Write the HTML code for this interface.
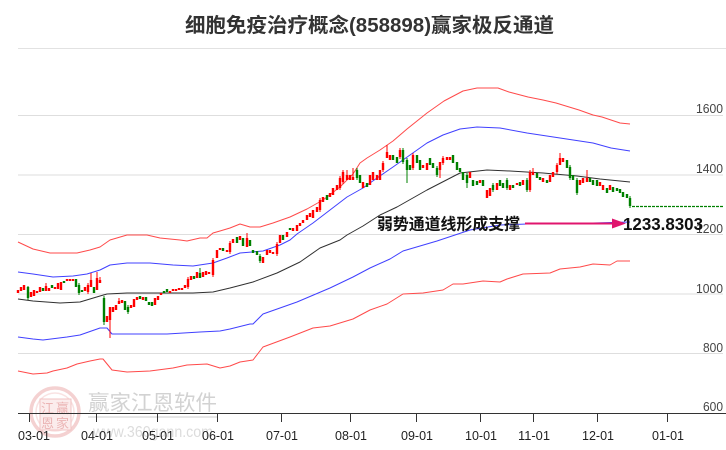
<!DOCTYPE html>
<html><head><meta charset="utf-8"><style>
html,body{margin:0;padding:0;background:#fff;width:726px;height:450px;overflow:hidden}
svg{display:block}
text{font-family:"Liberation Sans","Noto Sans CJK SC",sans-serif}
</style></head><body>
<svg width="726" height="450" viewBox="0 0 726 450" xmlns="http://www.w3.org/2000/svg">
<!-- watermark -->
<g opacity="0.85">
<circle cx="55" cy="412" r="24" fill="none" stroke="#f3caca" stroke-width="3.5"/>
<circle cx="55" cy="412" r="19" fill="none" stroke="#f8dede" stroke-width="1.5"/>
<rect x="40" y="399" width="31" height="31" fill="#fbe9e9" stroke="#efb9b9" stroke-width="1"/>
<text x="41" y="413" font-size="13" fill="#e8a8a8" font-family="Noto Sans CJK SC,sans-serif">江</text>
<text x="56" y="413" font-size="13" fill="#e8a8a8" font-family="Noto Sans CJK SC,sans-serif">赢</text>
<text x="41" y="428" font-size="13" fill="#e8a8a8" font-family="Noto Sans CJK SC,sans-serif">恩</text>
<text x="56" y="428" font-size="13" fill="#e8a8a8" font-family="Noto Sans CJK SC,sans-serif">家</text>
</g>
<text x="88" y="410" font-size="21" fill="#d2d2d2" textLength="129" lengthAdjust="spacingAndGlyphs">赢家江恩软件</text>
<rect x="88" y="416" width="129" height="2" fill="#e6e6e6"/>
<text x="93" y="437" font-size="16" fill="#dcdcdc" textLength="120" lengthAdjust="spacingAndGlyphs">www.360gann.com</text>

<!-- title -->
<text x="185" y="32" font-size="20" font-weight="bold" fill="#333" textLength="369" lengthAdjust="spacingAndGlyphs">细胞免疫治疗概念(858898)赢家极反通道</text>
<line x1="18" y1="48.5" x2="726" y2="48.5" stroke="#e2e2e2" stroke-width="1"/>

<!-- grid -->
<g stroke="#dedede" stroke-width="1">
<line x1="18" y1="115.5" x2="723" y2="115.5"/>
<line x1="18" y1="175" x2="723" y2="175"/>
<line x1="18" y1="234.5" x2="723" y2="234.5"/>
<line x1="18" y1="294" x2="723" y2="294"/>
<line x1="18" y1="353.5" x2="723" y2="353.5"/>
</g>
<g font-size="13" fill="#444" text-anchor="end">
<text x="723" y="113" textLength="27" lengthAdjust="spacingAndGlyphs">1600</text>
<text x="723" y="173" textLength="27" lengthAdjust="spacingAndGlyphs">1400</text>
<text x="723" y="233" textLength="27" lengthAdjust="spacingAndGlyphs">1200</text>
<text x="723" y="293" textLength="27" lengthAdjust="spacingAndGlyphs">1000</text>
<text x="723" y="352" textLength="20" lengthAdjust="spacingAndGlyphs">800</text>
<text x="723" y="411" textLength="20" lengthAdjust="spacingAndGlyphs">600</text>
</g>

<!-- axis -->
<line x1="18" y1="413.5" x2="726" y2="413.5" stroke="#333" stroke-width="1"/>
<g stroke="#333" stroke-width="1">
<line x1="29.5" y1="413" x2="29.5" y2="422"/>
<line x1="96.5" y1="413" x2="96.5" y2="422"/>
<line x1="157.5" y1="413" x2="157.5" y2="422"/>
<line x1="217.5" y1="413" x2="217.5" y2="422"/>
<line x1="281.5" y1="413" x2="281.5" y2="422"/>
<line x1="350.5" y1="413" x2="350.5" y2="422"/>
<line x1="416.5" y1="413" x2="416.5" y2="422"/>
<line x1="480.5" y1="413" x2="480.5" y2="422"/>
<line x1="533.5" y1="413" x2="533.5" y2="422"/>
<line x1="597.5" y1="413" x2="597.5" y2="422"/>
<line x1="667.5" y1="413" x2="667.5" y2="422"/>
</g>
<g font-size="13" fill="#222" text-anchor="middle">
<text x="34" y="440" textLength="32" lengthAdjust="spacingAndGlyphs">03-01</text>
<text x="97" y="440" textLength="32" lengthAdjust="spacingAndGlyphs">04-01</text>
<text x="158" y="440" textLength="32" lengthAdjust="spacingAndGlyphs">05-01</text>
<text x="218" y="440" textLength="32" lengthAdjust="spacingAndGlyphs">06-01</text>
<text x="282" y="440" textLength="32" lengthAdjust="spacingAndGlyphs">07-01</text>
<text x="351" y="440" textLength="32" lengthAdjust="spacingAndGlyphs">08-01</text>
<text x="417" y="440" textLength="32" lengthAdjust="spacingAndGlyphs">09-01</text>
<text x="481" y="440" textLength="32" lengthAdjust="spacingAndGlyphs">10-01</text>
<text x="534" y="440" textLength="32" lengthAdjust="spacingAndGlyphs">11-01</text>
<text x="598" y="440" textLength="32" lengthAdjust="spacingAndGlyphs">12-01</text>
<text x="668" y="440" textLength="32" lengthAdjust="spacingAndGlyphs">01-01</text>
</g>

<!-- bands -->
<g fill="none" stroke-width="1" stroke-linejoin="round">
<polyline stroke="#ff4a4a" points="18,242 33,249 50,253 77,253 90,250 100,247 110,240 127,235 147,235 160,238 180,240 187,241 200,238 207,238 213,233 220,231 230,228 240,224 250,227 260,227 273,223 290,217 307,209 323,200 340,187 353,174 360,163 367,158 380,150 393,141 407,129 427,113 444,101 463,91 477,88 498,88 509,92 528,97 543,100 556,103 579,110 593,115 602,117 620,123 630,124"/>
<polyline stroke="#4040ff" points="18,272 33,274 53,277 73,276 87,274 100,270 110,265 127,263 150,263 173,265 193,266 213,263 227,258 240,253 263,251 280,245 290,240 297,234 313,223 330,210 347,197 363,188 377,178 393,167 410,155 427,143 443,135 460,129 477,127 500,128 527,133 560,138 593,143 611,148 630,151"/>
<polyline stroke="#303030" points="18,299 33,301 60,303 80,302 100,296 107,294 127,293 167,293 193,293 213,292 230,288 253,282 277,273 300,262 320,248 340,240 347,235 363,226 380,215 397,207 427,190 460,173 487,170 510,171 543,173 577,176 600,179 610,180 630,182"/>
<polyline stroke="#4040ff" points="18,337 33,339 43,340 67,337 80,335 100,328 107,328 112,334 133,334 167,334 200,332 220,331 230,329 250,324 253,324 263,314 297,302 330,288 353,277 370,268 390,259 403,251 420,246 437,241 470,230 500,225 527,224 560,223 593,223 630,222"/>
<polyline stroke="#ff4a4a" points="18,371 33,374 47,373 53,371 67,368 77,364 90,361 100,359 103,359 112,370 127,372 150,371 173,368 187,365 207,364 220,368 230,366 240,362 253,360 263,347 290,337 313,328 330,326 353,319 370,310 387,304 403,294 423,293 443,290 453,284 463,284 483,281 500,282 507,279 523,274 550,273 560,269 580,267 593,264 610,265 617,261 630,261"/>
</g>

<!-- candle wicks -->
<path fill="none" stroke="#ff0000" stroke-width="1" d="M91 273V287M97 272V290M100 277V283M110 307V338M119 298V304M46 283V291M88 283V294M188 277V289M213 258V277M230 241V254M247 233V247M277 242V256M320 198V212M340 176V190M343 170V184M347 170V180M353 168V180M383 161V172M387 145V158M400 148V159M413 153V170M440 162V178M443 156V165M530 170V192M533 168V175M557 163V174M560 153V165M587 170V182"/>
<path fill="none" stroke="#008000" stroke-width="1" d="M28 286V300M79 283V295M104 296V325M128 305V314M200 268V278M260 254V263M357 168V180M403 148V164M407 158V183M437 166V177M467 173V188M493 183V192M507 178V190M527 178V192M570 165V180M577 178V195M630 196V208"/>
<!-- candle bodies -->
<path fill="none" stroke="#ff0000" stroke-width="2.4" d="M18 290V293M21 287V291M24 285V290M31 292V297M34 290V296M37 291V293M40 287V292M46 286V291M49 288V291M55 287V289M58 283V289M61 282V290M67 279V281M70 279V281M73 279V281M85 287V291M88 285V292M91 280V287M97 278V290M100 280V283M107 316V322M110 307V320M113 307V312M116 305V310M119 301V304M122 300V303M131 305V308M134 299V307M137 297V300M143 297V300M155 298V305M158 296V300M161 293V295M170 291V293M173 289V291M176 289V291M179 288V290M182 288V290M185 285V288M188 279V287M191 276V280M197 272V278M203 272V277M206 271V275M209 272V274M213 260V275M217 250V258M220 248V250M227 250V252M230 243V252M233 239V243M240 236V240M247 238V247M263 257V263M267 250V255M270 250V253M273 252V254M277 244V254M280 235V243M287 232V237M293 228V231M297 225V231M300 223V226M303 220V223M307 215V220M310 213V217M313 210V218M317 207V212M320 200V210M323 197V202M330 193V197M333 188V195M337 185V190M340 178V188M343 172V182M347 175V180M350 175V180M353 177V180M363 182V188M370 175V185M373 172V180M377 175V180M380 170V180M383 163V170M387 152V158M390 155V160M400 150V157M413 155V168M423 165V168M427 163V170M440 162V170M443 158V163M447 157V160M450 157V160M470 172V178M480 180V183M487 190V198M490 188V196M497 183V190M510 185V190M517 183V185M523 180V185M530 172V190M533 172V175M543 178V182M550 175V182M553 172V177M557 165V172M560 158V165M563 158V162M580 180V185M583 178V183M587 178V182M600 182V186M603 185V190M610 185V190"/>
<path fill="none" stroke="#008000" stroke-width="2.4" d="M28 287V298M43 288V291M52 285V288M64 281V283M76 279V287M79 285V293M82 290V292M94 287V293M104 298V322M125 301V310M128 307V312M140 296V299M146 297V301M149 302V305M152 302V306M164 291V293M167 289V292M194 276V279M200 273V278M223 248V251M237 237V243M243 238V246M250 240V246M253 250V253M257 251V255M260 256V261M283 235V240M290 228V230M327 195V200M357 170V178M360 175V183M367 183V187M393 155V160M397 157V163M403 150V162M407 160V170M410 165V170M417 155V163M420 160V170M430 158V165M433 163V168M437 168V175M453 155V163M457 162V170M460 168V172M463 172V180M467 175V183M473 180V186M477 181V185M483 180V186M493 185V190M500 180V186M503 183V188M507 180V188M513 185V188M520 182V186M527 180V190M537 173V178M540 177V180M547 180V183M567 160V168M570 167V178M573 175V180M577 180V193M590 178V182M593 180V185M597 180V186M607 188V193M613 187V192M617 188V191M620 189V193M623 192V197M627 194V198M630 198V206"/>

<!-- projection dashed -->
<line x1="632" y1="206.5" x2="723" y2="206.5" stroke="#008000" stroke-width="1.3" stroke-dasharray="3,1"/>

<!-- annotation -->
<line x1="525" y1="223.5" x2="614" y2="223.5" stroke="#e0156e" stroke-width="2"/>
<polygon points="612,218.5 626,223.5 612,228.5" fill="#e0156e"/>
<text x="377" y="229.5" font-size="16" font-weight="bold" fill="#111" textLength="143" lengthAdjust="spacingAndGlyphs">弱势通道线形成支撑</text>
<text x="623" y="230" font-size="17.5" font-weight="bold" fill="#111" textLength="80" lengthAdjust="spacingAndGlyphs">1233.8303</text>
</svg>
</body></html>
